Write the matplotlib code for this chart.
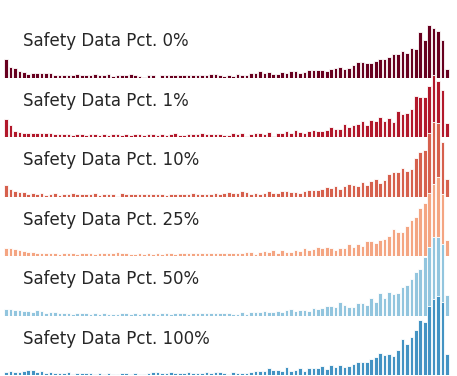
import matplotlib
matplotlib.use("Agg")
import matplotlib.pyplot as plt
import numpy as np

labels = ["Safety Data Pct. 0%", "Safety Data Pct. 1%", "Safety Data Pct. 10%",
          "Safety Data Pct. 25%", "Safety Data Pct. 50%", "Safety Data Pct. 100%"]
colors = ["#67001f", "#b2182b", "#d6604d", "#f4a582", "#92c5de", "#4393c3"]

pct0 = [19, 11, 10.5, 7, 6, 4, 5.5, 5, 5, 5.5, 5.5, 3.5, 3, 3.5, 3, 3.5, 4, 3, 3.5, 3.5,
        4, 3, 3, 4, 2.5, 3.5, 3, 3, 4, 3, 2.5, 1, 3.5, 3, 0.5, 3, 3.5, 3, 3, 3,
        3.5, 3.5, 3.5, 3.5, 3, 3.5, 4, 4, 3.5, 2.5,
        2.7, 1.7, 4.3, 3.3, 3.3, 5.3, 5, 6.7, 5, 5.7, 3.7, 3.7, 6, 4.7, 7.3, 7.3, 5, 5.7, 8, 8,
        8, 8.3, 7.3, 9, 10, 11, 8.7, 10.3, 12.7, 16.3, 16, 15, 15.3, 16.7, 19.3, 19, 21, 24, 24, 27.3,
        25, 29.7, 29.3, 45.7, 37.7, 53.3, 50.3, 46.7, 38.3, 8.7]
pct1 = [18.3, 12.7, 6, 5.7, 4, 4.3, 4.7, 4, 4, 4, 4.3, 3, 3, 3, 3.5, 2.5, 3, 3, 2.5, 3,
        3.5, 2.5, 3, 2, 3, 3.5, 2.5, 3, 2, 3, 3, 2, 3, 3, 2.5, 3.5, 2, 3, 4.3, 2.5,
        2, 3, 3, 3.5, 4, 3, 3.5, 3.5, 3, 2.5,
        2.7, 4, 3, 4.7, 1, 3.7, 4.3, 4.3, 3.3, 5.7, 1.7, 4.3, 4.3, 6.3, 4.7, 7.7, 5.3, 4, 6.7, 7.3,
        6.7, 6.7, 7, 10.3, 8.7, 8.3, 13.3, 10.7, 12.3, 13.7, 16.7, 12.7, 17.3, 16.7, 20, 16.3, 19.7, 15.7, 26.7, 23,
        24.7, 28.7, 41.3, 40.7, 40, 51, 62, 56, 47, 14]
pct10 = [12.3, 8.3, 5.7, 4.3, 5, 2.5, 4, 2.5, 4, 2, 3, 3.5, 2, 3, 3, 3.5, 2.5, 3, 2.5, 3,
         3.5, 2, 3, 2.5, 3, 1, 3.5, 3, 3, 3, 3, 3, 2.5, 3, 2.5, 3, 2, 2.5, 3, 2.5,
         3, 2.5, 3.5, 3, 2.5, 3, 3, 3.5, 3, 3.5,
         4.3, 4, 3.3, 5.7, 4.7, 2.3, 4, 2.3, 4, 5.3, 3.7, 3.7, 5.7, 5.7, 4.3, 5, 4, 6, 6.7, 6.7,
         7.3, 7.7, 10.3, 8.7, 10.7, 7.7, 10.7, 13.3, 12.3, 11.3, 15, 12, 16, 17.7, 14.3, 17, 22.7, 25.3, 25.3, 29.3,
         26, 27.7, 38.7, 44.7, 47.3, 63.4, 74.4, 74, 55, 18]
pct25 = [8.7, 8.3, 7.7, 6.3, 5, 4.3, 4, 3, 3.5, 3, 3, 3.5, 2.5, 3, 3, 3.5, 2.5, 3, 3.5, 3,
         2.5, 3, 3, 3.5, 3, 4, 3, 3.5, 2.5, 2, 3, 2.5, 3, 2.5, 3, 2, 3, 3, 2.5, 3,
         3, 3.5, 3, 3, 3.5, 3, 3, 3.5, 3, 3,
         3, 3, 3, 3, 4.3, 4, 2.7, 4, 5, 4.7, 6, 3, 6, 4.7, 4.7, 6.7, 5.3, 8, 6.7, 7.3,
         9.3, 8, 9.7, 8.3, 6.7, 8.3, 8.7, 12, 9.3, 12, 10.7, 15, 15.7, 13.3, 16, 17, 20.3, 27.3, 24, 24,
         29.7, 35.7, 39, 48, 53, 63, 71.7, 79, 62, 16.3]
pct50 = [6.3, 6.3, 5.7, 5.7, 4.7, 5, 4, 5.3, 4.7, 3, 3.5, 4, 3, 2.5, 3, 2, 3, 2.5, 2.5, 2,
         3, 1.5, 2.5, 2, 2, 1.5, 2.5, 3, 2, 2.5, 2, 2.5, 3, 2.5, 2, 2.5, 3, 2, 2.5, 3,
         2.5, 2, 3, 2.5, 2.5, 3, 2.5, 3, 2.5, 3,
         3, 1.7, 1.3, 3.7, 1.7, 3.3, 4, 3.7, 4.7, 3.3, 3.3, 4.7, 3.7, 5.7, 6.7, 5, 6, 5.7, 4.7, 7.7,
         6.3, 7.7, 10, 9.7, 8.3, 13.7, 10.3, 8.7, 8.7, 12.7, 12.3, 10.7, 17.7, 13.3, 22.3, 17.7, 24, 22, 23, 28.7,
         30.7, 37, 43.3, 46.7, 58.7, 69, 79, 79, 71.7, 21]
pct100 = [3.3, 4, 3, 3.3, 4.3, 5, 5.3, 3.3, 4, 2.5, 3.5, 2, 2.5, 2, 3, 1.5, 2, 2.5, 2, 2.5,
          1.5, 2, 1.5, 2.5, 1, 1.5, 2.5, 2, 1, 2, 1.5, 1, 2.5, 3, 3.5, 2.5, 2, 3, 2.5, 2,
          2.5, 3, 2.5, 2.5, 2, 3, 2.5, 3, 3.5, 2.5,
          0.7, 2.7, 1.7, 1.7, 1.7, 2.7, 3.7, 3.7, 4, 6.7, 4.7, 4.7, 3.7, 7.7, 4.3, 4.7, 7.3, 3.7, 7.3, 7.3,
          7, 9, 6, 9.7, 8, 10, 7.7, 9.3, 10.7, 12.7, 13, 13, 16, 17.7, 22, 20, 21, 19.3, 25, 35.7,
          31, 38, 45, 54.7, 53, 69.3, 75.7, 79, 73.3, 20.7]

series = [pct0, pct1, pct10, pct25, pct50, pct100]

W, H = 457, 376
fig = plt.figure(figsize=(W / 100, H / 100), dpi=100)
fig.patch.set_facecolor("white")

baselines = [78, 137.4, 196.8, 256.2, 315.6, 375]
ax_h = 82
px_per_bin = 441 / 99
xmin = -6 / px_per_bin
xmax = xmin + W / px_per_bin

for k, (lab, col, vals) in enumerate(zip(labels, colors, series)):
    bottom = 1 - baselines[k] / H
    ax = fig.add_axes([0, bottom, 1, ax_h / H])
    ax.patch.set_alpha(0)
    x = np.arange(len(vals))
    ax.bar(x, vals, width=0.8, color=col, edgecolor="white", linewidth=0.6)
    ax.set_xlim(xmin, xmax)
    ax.set_ylim(0, ax_h)
    ax.axis("off")
    ax.text(23 / W, 31.5 / ax_h, lab, transform=ax.transAxes, fontsize=12,
            color="#262626", va="baseline", ha="left")

fig.savefig("out.png", dpi=100)
